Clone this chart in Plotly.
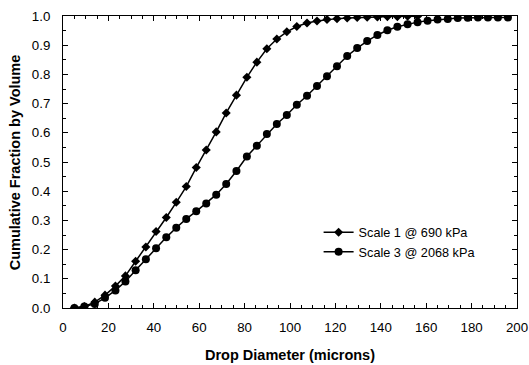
import plotly.graph_objects as go

# Drop diameters (microns)
diam = [5.0, 9.4, 14.0, 18.5, 23.1, 27.5, 32.0, 36.5, 41.0, 45.5, 49.9, 54.3,
        58.7, 63.1, 67.5, 71.9, 76.4, 81.0, 85.4, 89.8, 94.2, 98.6, 103.0,
        107.5, 111.9, 116.3, 120.7, 125.2, 129.6, 134.0, 138.5, 142.9, 147.3,
        151.8, 156.2, 160.6, 165.0, 169.5, 173.9, 178.3, 182.8, 187.2, 191.6, 196.0]

scale1 = [0.0, 0.005, 0.02, 0.044, 0.075, 0.11, 0.16, 0.209, 0.262, 0.31,
          0.362, 0.416, 0.481, 0.541, 0.603, 0.668, 0.729, 0.79, 0.842, 0.888,
          0.921, 0.946, 0.964, 0.976, 0.983, 0.988, 0.991, 0.993, 0.995, 0.996,
          0.997, 0.998, 0.998, 0.999, 0.999]

scale3 = [0.0, 0.005, 0.014, 0.035, 0.06, 0.091, 0.129, 0.167, 0.205, 0.242,
          0.275, 0.305, 0.331, 0.358, 0.388, 0.425, 0.469, 0.519, 0.556, 0.596,
          0.63, 0.661, 0.696, 0.727, 0.76, 0.794, 0.828, 0.863, 0.89, 0.914,
          0.935, 0.951, 0.963, 0.972, 0.979, 0.984, 0.988, 0.99, 0.993, 0.994,
          0.995, 0.995, 0.995, 0.995]

x_ticks = [0, 20, 40, 60, 80, 100, 120, 140, 160, 180, 200]
y_ticks = [0.0, 0.1, 0.2, 0.3, 0.4, 0.5, 0.6, 0.7, 0.8, 0.9, 1.0]

FONT = "Arial, Liberation Sans, sans-serif"

fig = go.Figure()
fig.add_trace(go.Scatter(
    x=diam[:len(scale1)], y=scale1, mode="lines+markers", name="Scale 1 @ 690 kPa",
    line=dict(color="black", width=1.5),
    marker=dict(symbol="diamond", size=7, color="black"),
))
fig.add_trace(go.Scatter(
    x=diam[:len(scale3)], y=scale3, mode="lines+markers", name="Scale 3 @ 2068 kPa",
    line=dict(color="black", width=1.5),
    marker=dict(symbol="circle", size=8, color="black"),
))

axis_common = dict(
    showgrid=False, zeroline=False, showline=True, linecolor="black", linewidth=1,
    mirror="ticks", ticks="inside", ticklen=5, tickcolor="black", tickwidth=1,
    tickfont=dict(family=FONT, size=13.3, color="black"), automargin=False,
)

fig.update_xaxes(
    range=[0, 200], tickvals=x_ticks, ticktext=[str(v) for v in x_ticks],
    ticklabelstandoff=7,
    minor=dict(ticks="inside", dtick=5, ticklen=3, tickcolor="black", tickwidth=1),
    **axis_common,
)
fig.update_yaxes(
    range=[0, 1.0], tickvals=y_ticks, ticktext=[f"{v:.1f}" for v in y_ticks],
    ticklabelstandoff=9,
    minor=dict(ticks="inside", dtick=0.05, ticklen=3, tickcolor="black", tickwidth=1),
    **axis_common,
)

fig.update_layout(
    width=529, height=365,
    margin=dict(l=63, r=12, t=16, b=57),
    plot_bgcolor="white", paper_bgcolor="white",
    font=dict(family=FONT, color="black"),
    legend=dict(x=0.563, y=0.31, xanchor="left", yanchor="top",
                bgcolor="rgba(0,0,0,0)", font=dict(size=12.7, color="black"),
                itemwidth=30, tracegroupgap=0),
    annotations=[
        dict(text="<b>Drop Diameter (microns)</b>", xref="paper", yref="paper",
             x=0.5, y=-0.16, xanchor="center", yanchor="middle", showarrow=False,
             font=dict(family=FONT, size=14.5, color="black")),
        dict(text="<b>Cumulative Fraction by Volume</b>", xref="paper", yref="paper",
             x=-0.105, y=0.5, xanchor="center", yanchor="middle", textangle=-90,
             showarrow=False, font=dict(family=FONT, size=14.5, color="black")),
    ],
)

fig.write_html("out.html")
